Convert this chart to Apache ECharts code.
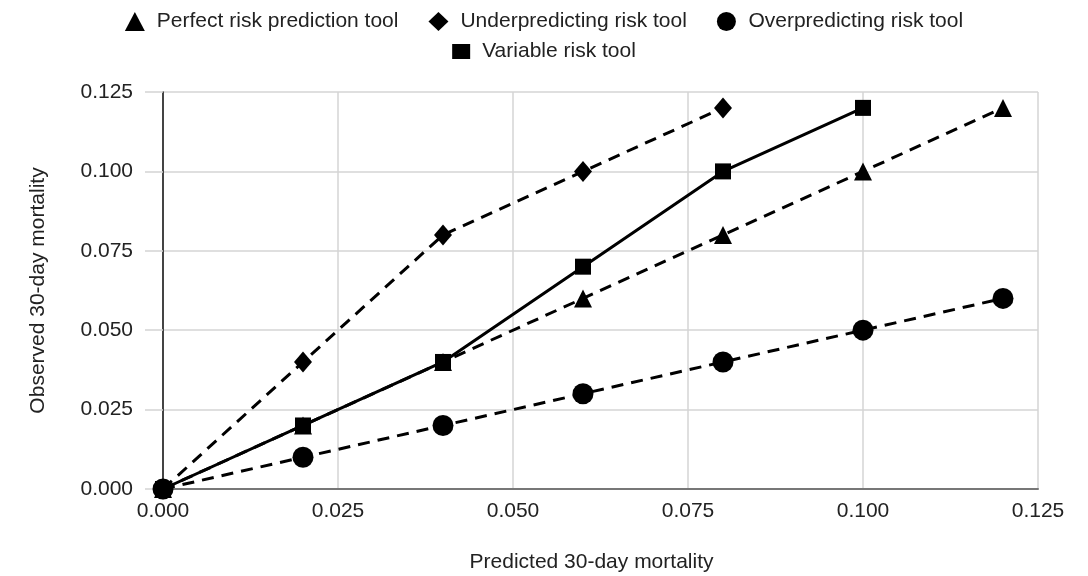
<!DOCTYPE html>
<html><head><meta charset="utf-8">
<script src="https://cdn.jsdelivr.net/npm/echarts@6/dist/echarts.min.js"></script>
<style>html,body{margin:0;padding:0;background:#fff}#c{width:1088px;height:576px}</style>
</head><body><div id="c"></div>
<script>
var xPredicted = [0, 0.02, 0.04, 0.06, 0.08, 0.1, 0.12];
var perfectObs = [0, 0.02, 0.04, 0.06, 0.08, 0.1, 0.12];
var underObs = [0, 0.04, 0.08, 0.1, 0.12];
var overObs = [0, 0.01, 0.02, 0.03, 0.04, 0.05, 0.06];
var variableObs = [0, 0.02, 0.04, 0.07, 0.1, 0.12];
var seriesNames = ['Perfect risk prediction tool', 'Underpredicting risk tool', 'Overpredicting risk tool', 'Variable risk tool'];

function pairs(ys){ return ys.map(function(y,i){ return [xPredicted[i], y]; }); }

var font = 'Liberation Sans, Arial, sans-serif';
var chart = echarts.init(document.getElementById('c'));
var dashed = {color:'#000', width:3, type:[12,8]};
var legendText = {fontSize:21, color:'#222', fontFamily:font, rich:{t:{fontSize:21, color:'#222', fontFamily:font, padding:[0,0,0,7]}}};
function lf(n){ return '{t|' + n + '}'; }
chart.setOption({
  animation:false,
  textStyle:{fontFamily:font},
  legend:[{
    top:6, left:'center', itemGap:30, itemWidth:20, itemHeight:19,
    data:[{name:seriesNames[0], icon:'triangle'},{name:seriesNames[1], icon:'diamond'},{name:seriesNames[2], icon:'circle'}],
    formatter:lf, textStyle:legendText
  },{
    top:36, left:'center', itemWidth:18, itemHeight:15,
    data:[{name:seriesNames[3], icon:'rect'}],
    formatter:lf, textStyle:legendText
  }],
  grid:{left:163, right:50, top:92, bottom:87, outerBoundsMode:'none', containLabel:false},
  xAxis:{
    type:'value', min:0, max:0.125, interval:0.025,
    name:'Predicted 30-day mortality', nameLocation:'middle', nameGap:63,
    nameTextStyle:{fontSize:21, color:'#222', padding:[0,18,0,0]},
    axisLine:{show:true, onZero:false, lineStyle:{color:'#777', width:2}},
    axisTick:{show:false},
    axisLabel:{fontSize:21, color:'#222', margin:12, formatter:function(v){return v.toFixed(3);}},
    splitLine:{show:true, lineStyle:{color:'#d4d4d4', width:1.5}}
  },
  yAxis:{
    type:'value', min:0, max:0.125, interval:0.025,
    name:'Observed 30-day mortality', nameLocation:'middle', nameGap:114,
    nameTextStyle:{fontSize:21, color:'#222'},
    axisLine:{show:true, lineStyle:{color:'#111', width:1.5}},
    axisTick:{show:true, length:18, lineStyle:{color:'#d4d4d4', width:1.5}},
    axisLabel:{fontSize:21, color:'#222', margin:30, formatter:function(v){return v.toFixed(3);}},
    splitLine:{show:true, lineStyle:{color:'#d4d4d4', width:1.5}}
  },
  series:[
    {name:seriesNames[0], type:'line', data:pairs(perfectObs), symbol:'triangle', symbolSize:18, itemStyle:{color:'#000'}, lineStyle:dashed, z:3},
    {name:seriesNames[1], type:'line', data:pairs(underObs), symbol:'diamond', symbolSize:[18,21], itemStyle:{color:'#000'}, lineStyle:dashed, z:3},
    {name:seriesNames[2], type:'line', data:pairs(overObs), symbol:'circle', symbolSize:21, itemStyle:{color:'#000'}, lineStyle:dashed, z:3},
    {name:seriesNames[3], type:'line', data:pairs(variableObs), symbol:'rect', symbolSize:16, itemStyle:{color:'#000'}, lineStyle:{color:'#000', width:3, type:'solid'}, z:4}
  ]
});
</script></body></html>
